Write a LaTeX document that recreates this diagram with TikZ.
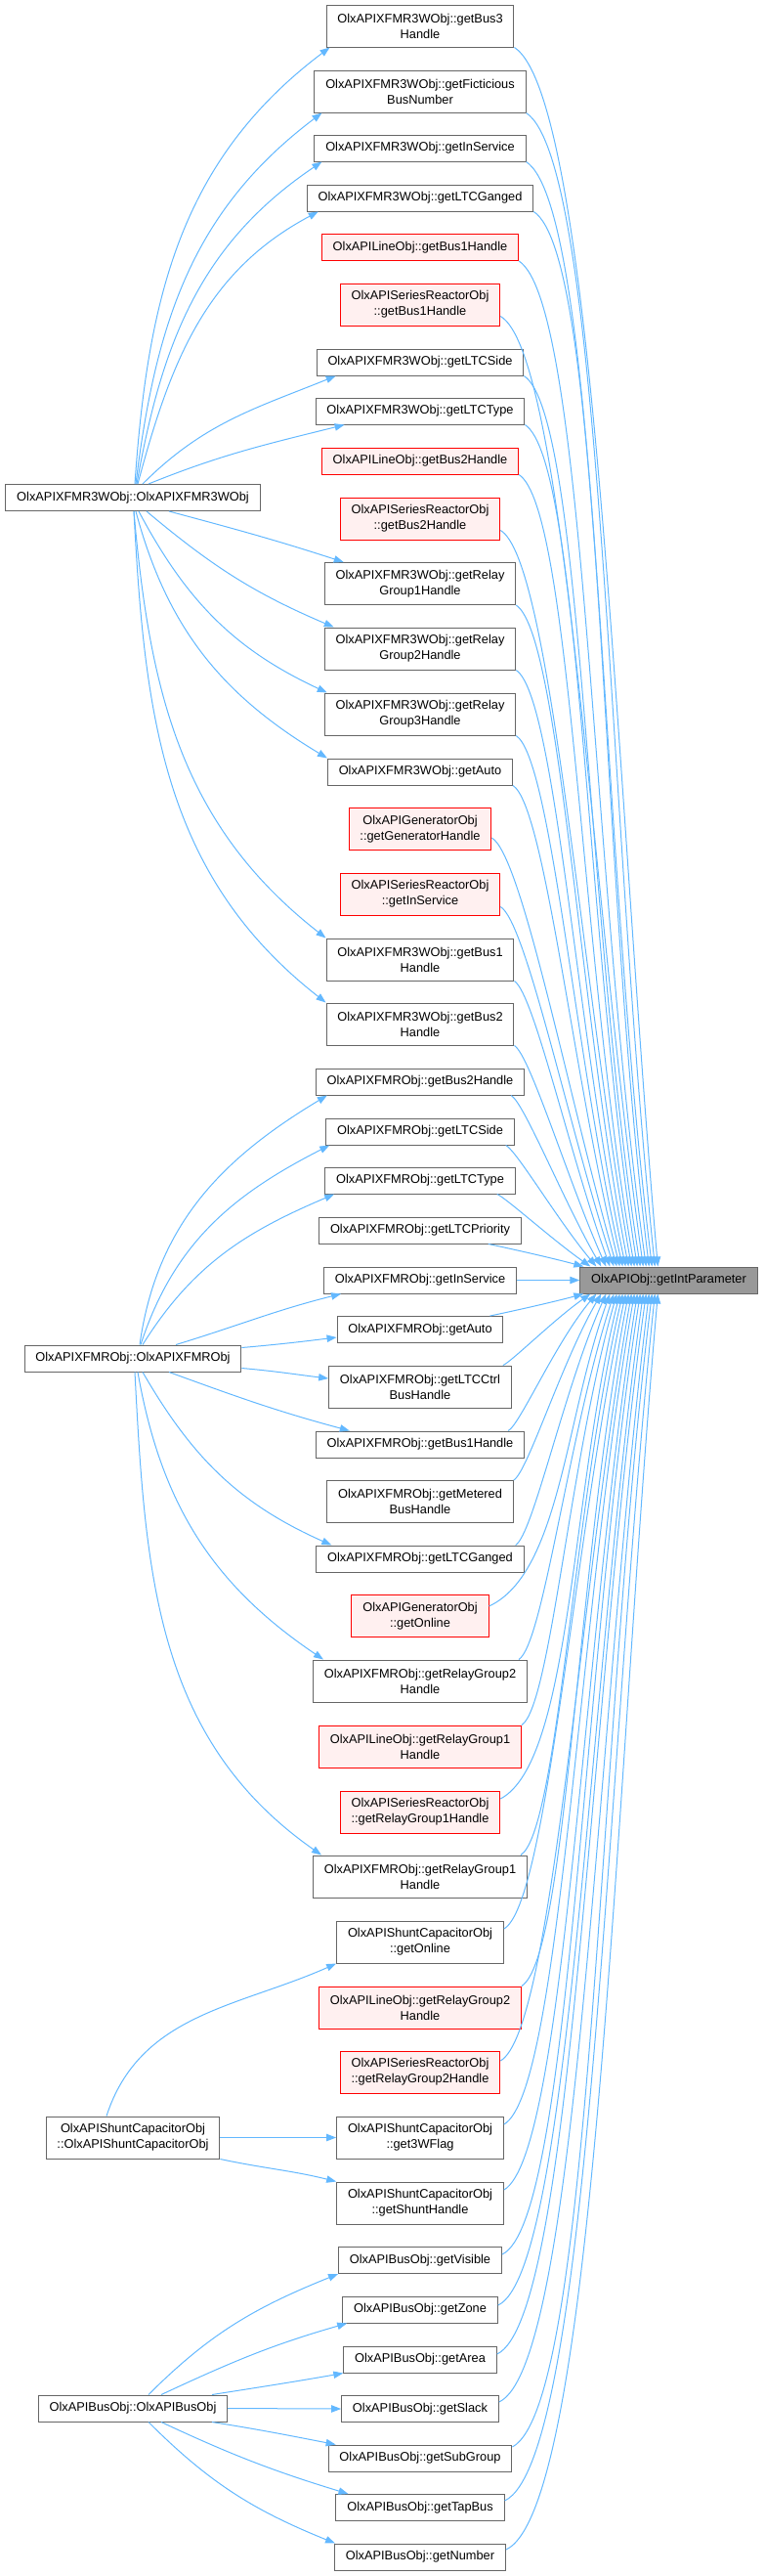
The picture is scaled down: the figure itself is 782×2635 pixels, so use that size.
\documentclass[tikz,border=0pt]{standalone}
\usepackage{fontspec}
\setmainfont{Liberation Sans}
\usetikzlibrary{arrows.meta}
\definecolor{edgeblue}{HTML}{63B8FF}
\definecolor{boxgray}{HTML}{666666}
\definecolor{rootfill}{HTML}{999999}
\definecolor{redfill}{HTML}{FFF0F0}
\tikzset{
  fn/.style={draw=boxgray, fill=white, line width=0.75pt, inner xsep=8.5pt, inner ysep=0pt,
    minimum height=20.25pt, align=center, font=\fontsize{9.6pt}{12pt}\selectfont},
  tall/.style={minimum height=32.25pt},
  nodoc/.style={draw=red, fill=redfill},
  root/.style={fill=rootfill},
  callarrow/.style={draw=edgeblue, line width=0.75pt, -{Triangle[length=7.5pt,width=5.5pt]}},
  tomain/.style={callarrow, out looseness=0.2, in looseness=1.0},
}
\begin{document}
\begin{tikzpicture}[x=0.75pt, y=0.75pt]
    \useasboundingbox (0,0) rectangle (782,-2635);

    % 被调用的函数 (右侧)
    \node[fn, root] (gip) at (684.5,-1309.5) {OlxAPIObj::getIntParameter};

    % 调用者 (左侧)
    \node[fn] (x3w) at (136,-509) {OlxAPIXFMR3WObj::OlxAPIXFMR3WObj};
    \node[fn] (xf) at (136,-1389.5) {OlxAPIXFMRObj::OlxAPIXFMRObj};
    \node[fn, tall] (sc) at (136,-2186.5) {OlxAPIShuntCapacitorObj\\::OlxAPIShuntCapacitorObj};
    \node[fn] (bus) at (136,-2463.5) {OlxAPIBusObj::OlxAPIBusObj};

    % 中间一列, 全部以 x=430 居中
    \node[fn, tall] (m3wBusThree) at (430,-26.5) {OlxAPIXFMR3WObj::getBus3\\Handle};
    \node[fn, tall] (m3wFict) at (430,-93.5) {OlxAPIXFMR3WObj::getFicticious\\BusNumber};
    \node[fn] (m3wInSvc) at (430,-151.5) {OlxAPIXFMR3WObj::getInService};
    \node[fn] (m3wGanged) at (430,-202.5) {OlxAPIXFMR3WObj::getLTCGanged};
    \node[fn, nodoc] (lineBusOne) at (430,-253) {OlxAPILineObj::getBus1Handle};
    \node[fn, tall, nodoc] (srBusOne) at (430,-311.5) {OlxAPISeriesReactorObj\\::getBus1Handle};
    \node[fn] (m3wSide) at (430,-370.5) {OlxAPIXFMR3WObj::getLTCSide};
    \node[fn] (m3wType) at (430,-420.5) {OlxAPIXFMR3WObj::getLTCType};
    \node[fn, nodoc] (lineBusTwo) at (430,-471.5) {OlxAPILineObj::getBus2Handle};
    \node[fn, tall, nodoc] (srBusTwo) at (430,-530.5) {OlxAPISeriesReactorObj\\::getBus2Handle};
    \node[fn, tall] (m3wRgOne) at (430,-597) {OlxAPIXFMR3WObj::getRelay\\Group1Handle};
    \node[fn, tall] (m3wRgTwo) at (430,-663.5) {OlxAPIXFMR3WObj::getRelay\\Group2Handle};
    \node[fn, tall] (m3wRgThree) at (430,-730.5) {OlxAPIXFMR3WObj::getRelay\\Group3Handle};
    \node[fn] (m3wAuto) at (430,-789.5) {OlxAPIXFMR3WObj::getAuto};
    \node[fn, tall, nodoc] (genHandle) at (430,-848) {OlxAPIGeneratorObj\\::getGeneratorHandle};
    \node[fn, tall, nodoc] (srInSvc) at (430,-914.5) {OlxAPISeriesReactorObj\\::getInService};
    \node[fn, tall] (m3wBusOne) at (430,-981.5) {OlxAPIXFMR3WObj::getBus1\\Handle};
    \node[fn, tall] (m3wBusTwo) at (430,-1047.5) {OlxAPIXFMR3WObj::getBus2\\Handle};
    \node[fn] (xfBusTwo) at (430,-1106.5) {OlxAPIXFMRObj::getBus2Handle};
    \node[fn] (xfSide) at (430,-1157.5) {OlxAPIXFMRObj::getLTCSide};
    \node[fn] (xfType) at (430,-1207.5) {OlxAPIXFMRObj::getLTCType};
    \node[fn] (xfPrio) at (430,-1258.5) {OlxAPIXFMRObj::getLTCPriority};
    \node[fn] (xfInSvc) at (430,-1309.5) {OlxAPIXFMRObj::getInService};
    \node[fn] (xfAuto) at (430,-1360) {OlxAPIXFMRObj::getAuto};
    \node[fn, tall] (xfCtrl) at (430,-1418.5) {OlxAPIXFMRObj::getLTCCtrl\\BusHandle};
    \node[fn] (xfBusOne) at (430,-1477.5) {OlxAPIXFMRObj::getBus1Handle};
    \node[fn, tall] (xfMeter) at (430,-1536) {OlxAPIXFMRObj::getMetered\\BusHandle};
    \node[fn] (xfGanged) at (430,-1594.5) {OlxAPIXFMRObj::getLTCGanged};
    \node[fn, tall, nodoc] (genOnline) at (430,-1653) {OlxAPIGeneratorObj\\::getOnline};
    \node[fn, tall] (xfRgTwo) at (430,-1719.5) {OlxAPIXFMRObj::getRelayGroup2\\Handle};
    \node[fn, tall, nodoc] (lineRgOne) at (430,-1786.5) {OlxAPILineObj::getRelayGroup1\\Handle};
    \node[fn, tall, nodoc] (srRgOne) at (430,-1853.5) {OlxAPISeriesReactorObj\\::getRelayGroup1Handle};
    \node[fn, tall] (xfRgOne) at (430,-1919.5) {OlxAPIXFMRObj::getRelayGroup1\\Handle};
    \node[fn, tall] (scOnline) at (430,-1986.5) {OlxAPIShuntCapacitorObj\\::getOnline};
    \node[fn, tall, nodoc] (lineRgTwo) at (430,-2053.5) {OlxAPILineObj::getRelayGroup2\\Handle};
    \node[fn, tall, nodoc] (srRgTwo) at (430,-2119.5) {OlxAPISeriesReactorObj\\::getRelayGroup2Handle};
    \node[fn, tall] (scFlag) at (430,-2186.5) {OlxAPIShuntCapacitorObj\\::get3WFlag};
    \node[fn, tall] (scShunt) at (430,-2253.5) {OlxAPIShuntCapacitorObj\\::getShuntHandle};
    \node[fn] (busVisible) at (430,-2312) {OlxAPIBusObj::getVisible};
    \node[fn] (busZone) at (430,-2362.5) {OlxAPIBusObj::getZone};
    \node[fn] (busArea) at (430,-2413.5) {OlxAPIBusObj::getArea};
    \node[fn] (busSlack) at (430,-2464) {OlxAPIBusObj::getSlack};
    \node[fn] (busSubGroup) at (430,-2514.5) {OlxAPIBusObj::getSubGroup};
    \node[fn] (busTapBus) at (430,-2565) {OlxAPIBusObj::getTapBus};
    \node[fn] (busNumber) at (430,-2615.5) {OlxAPIBusObj::getNumber};

    % XFMR3WObj 的调用
    \draw[callarrow] ([shift={(2,0)}]x3w.north) to[out=86,in=217] ([shift={(4,0)}]m3wBusThree.south west);
    \draw[callarrow] ([shift={(3,0)}]x3w.north) to[out=83,in=217] ([shift={(8,0)}]m3wFict.south west);
    \draw[callarrow] ([shift={(4,0)}]x3w.north) to[out=80,in=214] ([shift={(8,0)}]m3wInSvc.south west);
    \draw[callarrow] ([shift={(5,0)}]x3w.north) to[out=75,in=208] ([shift={(12,0)}]m3wGanged.south west);
    \draw[callarrow] ([shift={(10,0)}]x3w.north) to[out=45,in=202] ([shift={(20,0)}]m3wSide.south west);
    \draw[callarrow] ([shift={(16,0)}]x3w.north) to[out=22,in=194] ([shift={(30,0)}]m3wType.south west);
    \draw[callarrow] ([shift={(37,0)}]x3w.south) to[out=-15,in=162] ([shift={(20,0)}]m3wRgOne.north west);
    \draw[callarrow] ([shift={(14,0)}]x3w.south) to[out=-40,in=157] ([shift={(10,0)}]m3wRgTwo.north west);
    \draw[callarrow] ([shift={(6,0)}]x3w.south) to[out=-62,in=155] ([shift={(3,0)}]m3wRgThree.north west);
    \draw[callarrow] ([shift={(3,0)}]x3w.south) to[out=-75,in=149] (m3wAuto.north west);
    \draw[callarrow] ([shift={(1,0)}]x3w.south) to[out=-85,in=142] (m3wBusOne.north west);
    \draw[callarrow] ([shift={(1,0)}]x3w.south) to[out=-87,in=142] (m3wBusTwo.north west);

    % XFMRObj 的调用
    \draw[callarrow] ([shift={(7,0)}]xf.north) to[out=82,in=211] ([shift={(12,0)}]xfBusTwo.south west);
    \draw[callarrow] ([shift={(8,0)}]xf.north) to[out=72,in=207] ([shift={(4,0)}]xfSide.south west);
    \draw[callarrow] ([shift={(10,0)}]xf.north) to[out=58,in=203] ([shift={(10,0)}]xfType.south west);
    \draw[callarrow] ([shift={(44,0)}]xf.north) to[out=17,in=194] ([shift={(18,0)}]xfInSvc.south west);
    \draw[callarrow] ([shift={(0,11)}]xf.east) to[out=5,in=187] ([shift={(0,-8)}]xfAuto.west);
    \draw[callarrow] ([shift={(0,-10)}]xf.east) to[out=-5,in=173] ([shift={(0,8.5)}]xfCtrl.west);
    \draw[callarrow] ([shift={(37,0)}]xf.south) to[out=-20,in=165] ([shift={(35,0)}]xfBusOne.north west);
    \draw[callarrow] ([shift={(10,0)}]xf.south) to[out=-60,in=156] ([shift={(16,0)}]xfGanged.north west);
    \draw[callarrow] ([shift={(5,0)}]xf.south) to[out=-80,in=146] ([shift={(11,0)}]xfRgTwo.north west);
    \draw[callarrow] ([shift={(2,0)}]xf.south) to[out=-87,in=145] ([shift={(9,0)}]xfRgOne.north west);

    % ShuntCapacitorObj 的调用
    \draw[callarrow] ([shift={(-27,0)}]sc.north) to[out=72,in=204] (scOnline.south west);
    \draw[callarrow] (sc.east) -- (scFlag.west);
    \draw[callarrow] (sc.south east) to[out=-12,in=166] (scShunt.north west);

    % BusObj 的调用
    \draw[callarrow] ([shift={(16,0)}]bus.north) to[out=45,in=202] (busVisible.south west);
    \draw[callarrow] ([shift={(29,0)}]bus.north) to[out=25,in=196] ([shift={(5,0)}]busZone.south west);
    \draw[callarrow] ([shift={(81,0)}]bus.north) to[out=9,in=190] (busArea.south west);
    \draw[callarrow] (bus.east) -- (busSlack.west);
    \draw[callarrow] ([shift={(81,0)}]bus.south) to[out=-9,in=169] ([shift={(8,0)}]busSubGroup.north west);
    \draw[callarrow] ([shift={(29,0)}]bus.south) to[out=-25,in=163] ([shift={(13,0)}]busTapBus.north west);
    \draw[callarrow] ([shift={(16,0)}]bus.south) to[out=-45,in=158] ([shift={(1,0)}]busNumber.north west);

    % 到 getIntParameter 的连线 (上半部分)
    \draw[tomain] (m3wBusThree.south east) to[out=-33,in=95] ([shift={(80,0)}]gip.north west);
    \draw[tomain] (m3wFict.south east) to[out=-33,in=96] ([shift={(77,0)}]gip.north west);
    \draw[tomain] (m3wInSvc.south east) to[out=-33,in=97] ([shift={(74,0)}]gip.north west);
    \draw[tomain] (m3wGanged.south east) to[out=-33,in=97] ([shift={(71,0)}]gip.north west);
    \draw[tomain] (lineBusOne.south east) to[out=-33,in=98] ([shift={(68,0)}]gip.north west);
    \draw[tomain] ([shift={(0,-12)}]srBusOne.east) to[out=-30,in=98] ([shift={(65,0)}]gip.north west);
    \draw[tomain] (m3wSide.south east) to[out=-33,in=99] ([shift={(62,0)}]gip.north west);
    \draw[tomain] (m3wType.south east) to[out=-33,in=99] ([shift={(59,0)}]gip.north west);
    \draw[tomain] (lineBusTwo.south east) to[out=-33,in=100] ([shift={(56,0)}]gip.north west);
    \draw[tomain] ([shift={(0,-12)}]srBusTwo.east) to[out=-30,in=100] ([shift={(53,0)}]gip.north west);
    \draw[tomain] (m3wRgOne.south east) to[out=-33,in=101] ([shift={(50,0)}]gip.north west);
    \draw[tomain] (m3wRgTwo.south east) to[out=-33,in=102] ([shift={(47,0)}]gip.north west);
    \draw[tomain] (m3wRgThree.south east) to[out=-33,in=103] ([shift={(44,0)}]gip.north west);
    \draw[tomain] (m3wAuto.south east) to[out=-33,in=104] ([shift={(41,0)}]gip.north west);
    \draw[tomain] ([shift={(0,-9)}]genHandle.east) to[out=-30,in=106] ([shift={(38,0)}]gip.north west);
    \draw[tomain] ([shift={(0,-13)}]srInSvc.east) to[out=-30,in=108] ([shift={(35,0)}]gip.north west);
    \draw[tomain] (m3wBusOne.south east) to[out=-33,in=110] ([shift={(31,0)}]gip.north west);
    \draw[tomain] (m3wBusTwo.south east) to[out=-32,in=114] ([shift={(27,0)}]gip.north west);
    \draw[tomain] ([shift={(-14,0)}]xfBusTwo.south east) to[out=-30,in=120] ([shift={(22,0)}]gip.north west);
    \draw[tomain] ([shift={(-9,0)}]xfSide.south east) to[out=-26,in=130] ([shift={(17,0)}]gip.north west);
    \draw[tomain] ([shift={(-19,0)}]xfType.south east) to[out=-22,in=145] ([shift={(11,0)}]gip.north west);
    \draw[tomain] ([shift={(-34,0)}]xfPrio.south east) to[out=-11,in=165] ([shift={(4,0)}]gip.north west);
    \draw[tomain] (xfInSvc.east) -- (gip.west);

    % 到 getIntParameter 的连线 (下半部分)
    \draw[tomain] ([shift={(-14,0)}]xfAuto.north east) to[out=11,in=195] ([shift={(4,0)}]gip.south west);
    \draw[tomain] ([shift={(-9,0)}]xfCtrl.north east) to[out=22,in=215] ([shift={(11,0)}]gip.south west);
    \draw[tomain] ([shift={(-17,0)}]xfBusOne.north east) to[out=26,in=230] ([shift={(17,0)}]gip.south west);
    \draw[tomain] (xfMeter.north east) to[out=30,in=240] ([shift={(22,0)}]gip.south west);
    \draw[tomain] ([shift={(-9,0)}]xfGanged.north east) to[out=32,in=246] ([shift={(27,0)}]gip.south west);
    \draw[tomain, out looseness=0.6] ([shift={(0,10)}]genOnline.east) to[out=25,in=250] ([shift={(31,0)}]gip.south west);
    \draw[tomain] ([shift={(-9,0)}]xfRgTwo.north east) to[out=33,in=252] ([shift={(35,0)}]gip.south west);
    \draw[tomain] (lineRgOne.north east) to[out=33,in=254] ([shift={(38,0)}]gip.south west);
    \draw[tomain, out looseness=0.4] ([shift={(0,13.5)}]srRgOne.east) to[out=28,in=256] ([shift={(41,0)}]gip.south west);
    \draw[tomain] ([shift={(-7,0)}]xfRgOne.north east) to[out=33,in=257] ([shift={(44,0)}]gip.south west);
    \draw[tomain] ([shift={(0,13.5)}]scOnline.east) to[out=30,in=258] ([shift={(47,0)}]gip.south west);
    \draw[tomain] (lineRgTwo.north east) to[out=33,in=259] ([shift={(50,0)}]gip.south west);
    \draw[tomain] ([shift={(0,11.5)}]srRgTwo.east) to[out=30,in=260] ([shift={(53,0)}]gip.south west);
    \draw[tomain] ([shift={(0,13.5)}]scFlag.east) to[out=30,in=260] ([shift={(56,0)}]gip.south west);
    \draw[tomain] ([shift={(0,13.5)}]scShunt.east) to[out=30,in=261] ([shift={(59,0)}]gip.south west);
    \draw[tomain] ([shift={(0,6)}]busVisible.east) to[out=25,in=261] ([shift={(62,0)}]gip.south west);
    \draw[tomain] ([shift={(0,4.5)}]busZone.east) to[out=25,in=262] ([shift={(65,0)}]gip.south west);
    \draw[tomain] ([shift={(0,5.5)}]busArea.east) to[out=25,in=262] ([shift={(68,0)}]gip.south west);
    \draw[tomain] ([shift={(0,7)}]busSlack.east) to[out=25,in=263] ([shift={(71,0)}]gip.south west);
    \draw[tomain] ([shift={(0,11.5)}]busSubGroup.east) to[out=28,in=263] ([shift={(74,0)}]gip.south west);
    \draw[tomain] ([shift={(0,7)}]busTapBus.east) to[out=25,in=264] ([shift={(77,0)}]gip.south west);
    \draw[tomain] ([shift={(0,7.5)}]busNumber.east) to[out=25,in=265] ([shift={(80,0)}]gip.south west);
\end{tikzpicture}
\end{document}
